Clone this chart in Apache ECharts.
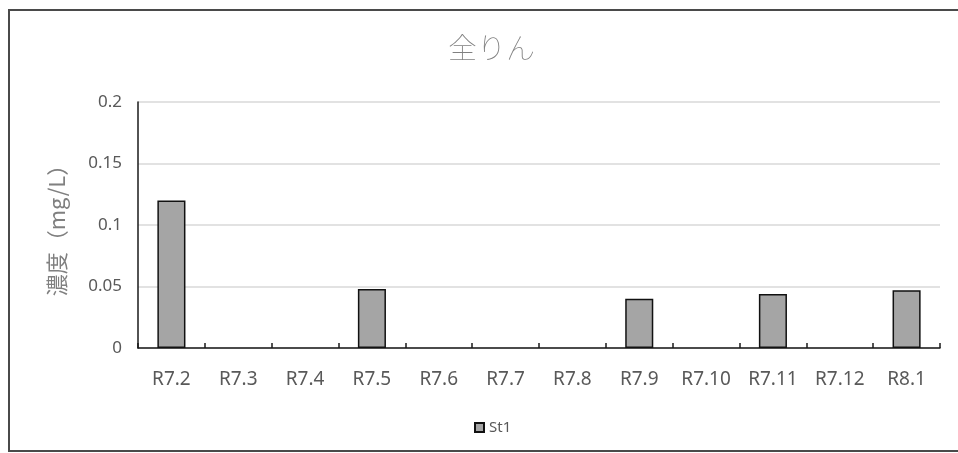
<!DOCTYPE html>
<html>
<head>
<meta charset="utf-8">
<script src="https://cdn.jsdelivr.net/npm/echarts@6/dist/echarts.min.js"></script>
<style>
  html, body { margin: 0; padding: 0; background: #fff; }
  #chart { width: 958px; height: 453px; }
</style>
</head>
<body>
<div id="chart"></div>
<script>
// Monthly survey dates (Reiwa year.month)
const categories = ['R7.2', 'R7.3', 'R7.4', 'R7.5', 'R7.6', 'R7.7', 'R7.8', 'R7.9', 'R7.10', 'R7.11', 'R7.12', 'R8.1'];
// Total phosphorus at station St1 (mg/L); null = no measurement
const st1Values = [0.12, null, null, 0.048, null, null, null, 0.04, null, 0.044, null, 0.047];
const yTicks = { min: 0, max: 0.2, interval: 0.05 };

const chart = echarts.init(document.getElementById('chart'), null, { renderer: 'canvas' });
const jpFont = '"Noto Sans CJK JP", "Noto Sans", sans-serif';
const latinFont = '"Noto Sans", "Open Sans", sans-serif';

chart.setOption({
  animation: false,
  backgroundColor: '#ffffff',
  title: {
    text: '全りん',
    left: 443,
    top: 28,
    textStyle: { fontFamily: jpFont, fontSize: 29, fontWeight: 'lighter', color: '#808080' }
  },
  graphic: [{
    type: 'rect',
    shape: { x: 9, y: 10, width: 960, height: 441 },
    style: { fill: 'none', stroke: '#4a4a4a', lineWidth: 2 },
    silent: true
  }],
  legend: {
    bottom: 13,
    left: 469,
    itemWidth: 9,
    itemHeight: 9,
    itemGap: 4,
    textStyle: { fontFamily: latinFont, fontSize: 15, color: '#595959' },
    data: [{ name: 'St1', icon: 'rect' }]
  },
  grid: { left: 138, right: 18, top: 102, bottom: 105, containLabel: false },
  xAxis: {
    type: 'category',
    data: categories,
    axisLine: { lineStyle: { color: '#1a1a1a', width: 1.5 } },
    axisTick: { show: true, inside: true, length: 5, interval: 0, lineStyle: { color: '#1a1a1a', width: 1.5 } },
    axisLabel: { fontFamily: latinFont, fontSize: 19, color: '#595959', margin: 22, interval: 0, hideOverlap: false }
  },
  yAxis: {
    type: 'value',
    min: yTicks.min,
    max: yTicks.max,
    interval: yTicks.interval,
    name: '濃度（mg/L）',
    nameLocation: 'middle',
    nameGap: 70,
    nameTextStyle: { fontFamily: jpFont, fontSize: 22, color: '#808080' },
    axisLine: { show: true, lineStyle: { color: '#1a1a1a', width: 1.5 } },
    axisTick: { show: false },
    axisLabel: {
      fontFamily: latinFont, fontSize: 17, color: '#595959', margin: 16,
      formatter: v => String(parseFloat(v.toFixed(3)))
    },
    splitLine: { lineStyle: { color: '#d9d9d9', width: 1.5 } }
  },
  series: [{
    name: 'St1',
    type: 'bar',
    data: st1Values,
    barWidth: '42%',
    itemStyle: { color: '#a5a5a5', borderColor: '#111111', borderWidth: 1.5 }
  }]
});
</script>
</body>
</html>
